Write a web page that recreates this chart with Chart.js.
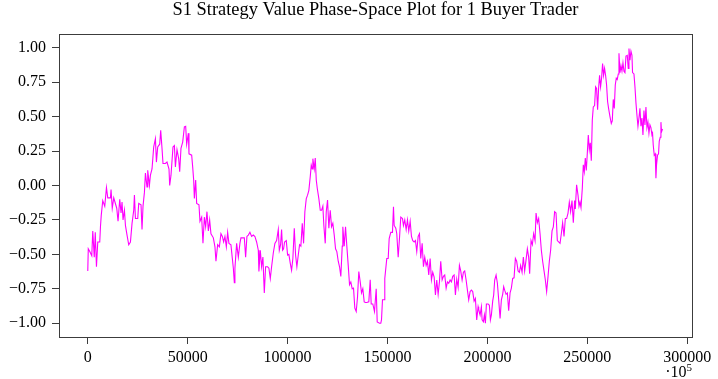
<!DOCTYPE html>
<html>
<head>
<meta charset="utf-8">
<script src="https://cdn.jsdelivr.net/npm/chart.js@4/dist/chart.umd.min.js"></script>
<style>
  html, body { margin: 0; padding: 0; background: #ffffff; }
  #wrap { width: 718px; height: 379px; position: relative; }
  canvas { display: block; }
</style>
</head>
<body>
<div id="wrap"><canvas id="c" width="718" height="379"></canvas></div>
<script>
const titleText = "S1 Strategy Value Phase-Space Plot for 1 Buyer Trader";
const xTickValues = [0, 50000, 100000, 150000, 200000, 250000, 300000];
const yTickValues = [-1.0, -0.75, -0.5, -0.25, 0.0, 0.25, 0.5, 0.75, 1.0];
const offsetLabel = "\u00b710";
const offsetExponent = "5";

const timeValues = [
  0,250,1000,2000,2500,3250,3750,4350,5000,6000,
  6350,6750,7500,8500,9350,10000,11350,11650,12250,13000,
  14500,15150,16000,16650,17150,17650,18350,18850,19650,20500,
  21350,22150,23000,23350,23850,25000,25500,26650,27150,27650,
  28350,28850,29650,30000,30850,31350,32150,33000,33850,34350,
  35000,36000,36500,37150,37650,38850,39650,40650,41000,41650,
  42650,43350,43850,44650,45500,46000,46650,47500,48350,
  49000,49500,50350,50650,52000,52500,53000,53350,54000,54500,
  55650,56150,57000,57650,58350,59000,59650,60350,61000,61650,
  62850,63650,64150,65000,65850,66650,67350,68000,68650,69350,
  70000,70650,71650,72350,72850,73350,73650,74500,75350,76150,
  76650,78350,79000,79650,80350,81150,82000,82850,83650,84500,
  85350,85650,86350,87000,87650,88350,89000,90000,90650,91350,
  92000,92850,93650,94500,95350,95850,96500,97000,97500,
  98000,98500,99350,100000,100650,101350,102000,102650,103350,104000,
  104650,105350,106000,106650,107350,108000,108650,109350,110000,110650,
  111350,111850,112350,112650,113350,113850,114350,114850,115650,116350,
  117000,117650,118150,118850,119350,120000,120650,121350,122000,122650,
  123350,124000,124650,125350,126000,126650,127350,127650,128350,129000,
  129650,130350,131000,131650,132350,133000,133650,134350,135000,135650,
  136350,137000,137650,138350,139000,139650,140650,141350,141850,142650,
  143500,144350,144850,146000,
  146650,147000,147500,148350,148650,149650,150350,150850,151650,152500,
  153000,153350,154150,154650,155350,156000,156650,157500,158000,158650,
  159350,160000,160650,161350,162000,162650,163350,164000,164650,165350,
  166000,166650,167350,168000,168650,169350,170000,170650,171350,172000,
  172650,173350,174000,174650,175350,176000,176650,177350,178000,178650,
  179350,180000,180650,181350,182000,182650,183350,184000,184650,185350,
  186000,186650,187350,188000,188650,189350,190000,190650,191350,192000,
  192650,193350,194000,194650,195350,
  195650,196350,197000,197350,198000,198500,199000,199500,200350,201000,
  201500,202000,202650,203150,203650,204350,205000,205650,206350,207000,
  207650,208150,208650,209350,210000,210650,211350,212000,212650,213350,
  214000,214650,215350,216000,216650,217350,218000,218650,219350,220000,
  220650,221150,221850,222500,223150,223850,224350,225000,225650,226350,
  227000,227650,228350,229000,229650,230350,231000,231650,232350,233000,
  233650,234350,235000,235650,236350,237000,237650,238350,239000,239650,
  240350,241000,241650,242350,243000,243650,
  244000,244650,245350,245850,246350,246850,247500,248000,248500,249000,
  249500,250000,250500,251000,251500,252000,252500,253000,253650,254150,
  254650,255150,255650,256150,256650,257150,257650,258150,258650,259150,
  259650,260150,260650,261350,262000,262500,263000,263500,264000,264500,
  265000,265500,265850,266350,266850,267350,267850,268350,268850,269350,
  270000,270500,270850,271350,271850,272350,272650,273350,273850,274350,
  274850,275350,275850,276350,276850,277350,277850,278350,278850,279350,
  279850,280350,280850,281350,281850,282350,282650,283000,283500,284000,
  284350,284650,285150,285650,286000,286500,286850,287150,287650
];

const strategyValues = [
  -0.62,-0.46,-0.48,-0.51,-0.33,-0.52,-0.34,-0.59,-0.41,-0.41,
  -0.30,-0.215,-0.11,-0.15,-0.015,-0.09,-0.09,-0.03,-0.165,-0.09,
  -0.165,-0.26,-0.10,-0.20,-0.12,-0.25,-0.18,-0.29,-0.36,-0.43,
  -0.41,-0.275,-0.18,-0.07,-0.24,-0.24,-0.13,-0.14,-0.32,-0.15,
  -0.05,0.09,-0.01,0.11,0.00,0.075,0.12,0.28,0.34,0.17,
  0.28,0.30,0.40,0.27,0.16,0.16,0.17,0.12,0.00,0.075,
  0.28,0.29,0.135,0.26,0.195,0.10,0.27,0.315,0.425,
  0.43,0.30,0.38,0.23,0.22,0.135,0.04,-0.095,0.04,-0.13,
  -0.14,-0.26,-0.23,-0.42,-0.23,-0.30,-0.19,-0.33,-0.25,-0.35,
  -0.38,-0.445,-0.55,-0.43,-0.445,-0.35,-0.37,-0.41,-0.37,-0.445,
  -0.34,-0.42,-0.43,-0.53,-0.60,-0.705,-0.60,-0.42,-0.52,-0.42,
  -0.38,-0.38,-0.52,-0.37,-0.36,-0.34,-0.37,-0.36,-0.37,-0.41,
  -0.47,-0.625,-0.47,-0.59,-0.52,-0.78,-0.59,-0.59,-0.60,-0.675,
  -0.59,-0.49,-0.42,-0.40,-0.32,-0.47,-0.43,-0.32,-0.47,
  -0.46,-0.41,-0.40,-0.505,-0.50,-0.565,-0.615,-0.53,-0.31,-0.505,
  -0.59,-0.505,-0.43,-0.44,-0.275,-0.42,-0.19,-0.095,-0.07,-0.035,
  0.065,0.147,0.12,0.195,0.12,0.20,0.04,-0.02,-0.095,-0.18,
  -0.18,-0.15,-0.29,-0.42,-0.19,-0.105,-0.31,-0.18,-0.30,-0.275,
  -0.36,-0.46,-0.48,-0.55,-0.59,-0.66,-0.44,-0.30,-0.44,-0.30,
  -0.44,-0.58,-0.72,-0.70,-0.75,-0.745,-0.89,-0.915,-0.81,-0.625,
  -0.70,-0.78,-0.75,-0.845,-0.85,-0.85,-0.845,-0.685,-0.86,-0.86,
  -0.915,-0.75,-0.99,-1.0,
  -1.0,-0.976,-0.83,-0.83,-0.675,-0.53,-0.53,-0.385,-0.34,-0.34,
  -0.155,-0.29,-0.31,-0.35,-0.52,-0.385,-0.23,-0.24,-0.29,-0.25,
  -0.32,-0.25,-0.33,-0.26,-0.37,-0.40,-0.41,-0.40,-0.48,-0.37,
  -0.35,-0.53,-0.42,-0.59,-0.52,-0.58,-0.55,-0.65,-0.53,-0.686,
  -0.63,-0.665,-0.795,-0.686,-0.79,-0.70,-0.55,-0.686,-0.66,-0.65,
  -0.745,-0.70,-0.71,-0.686,-0.70,-0.66,-0.65,-0.795,-0.68,-0.74,
  -0.58,-0.62,-0.686,-0.63,-0.62,-0.686,-0.76,-0.83,-0.77,-0.76,
  -0.77,-0.84,-0.82,-0.976,-0.88,
  -0.90,-0.94,-0.88,-0.976,-0.99,-0.94,-1.0,-0.86,-0.86,-0.87,
  -0.976,-0.94,-0.84,-0.795,-0.686,-0.65,-0.71,-0.83,-0.965,-0.83,
  -0.79,-0.735,-0.76,-0.79,-0.78,-0.91,-0.78,-0.745,-0.675,-0.67,
  -0.53,-0.55,-0.62,-0.63,-0.58,-0.63,-0.52,-0.62,-0.54,-0.46,
  -0.52,-0.64,-0.40,-0.43,-0.35,-0.40,-0.20,-0.27,-0.24,-0.35,
  -0.47,-0.55,-0.62,-0.686,-0.77,-0.66,-0.55,-0.47,-0.33,-0.30,
  -0.19,-0.20,-0.40,-0.41,-0.42,-0.35,-0.27,-0.37,-0.24,-0.24,
  -0.20,-0.12,-0.19,-0.11,-0.27,-0.11,
  -0.17,0.005,-0.07,-0.15,-0.12,-0.16,-0.02,0.15,0.10,0.20,
  0.11,0.234,0.367,0.26,0.31,0.18,0.475,0.57,0.58,0.717,
  0.705,0.55,0.705,0.80,0.717,0.78,0.886,0.80,0.85,0.80,
  0.73,0.61,0.56,0.50,0.45,0.47,0.625,0.56,0.73,0.78,
  0.77,0.81,0.96,0.82,0.87,0.83,0.89,0.83,0.82,0.94,
  0.945,0.85,0.995,0.91,0.975,0.945,0.82,0.81,0.717,0.60,
  0.51,0.43,0.49,0.56,0.43,0.49,0.367,0.545,0.44,0.57,
  0.42,0.46,0.38,0.44,0.42,0.367,0.38,0.294,0.22,0.23,
  0.053,0.15,0.22,0.23,0.32,0.35,0.46,0.39,0.41
];

const n = Math.min(timeValues.length, strategyValues.length);
const points = [];
for (let i = 0; i < n; i++) points.push({ x: timeValues[i], y: strategyValues[i] });

const SERIF = "'Liberation Serif', 'DejaVu Serif', serif";
const FRAME = '#3c3c3c';

const frameAndText = {
  id: 'frameAndText',
  afterDraw(chart) {
    const { ctx, chartArea: a } = chart;
    ctx.save();
    ctx.strokeStyle = FRAME;
    ctx.lineWidth = 1;
    ctx.strokeRect(Math.round(a.left) + 0.5, Math.round(a.top) + 0.5,
                   Math.round(a.right - a.left), Math.round(a.bottom - a.top));
    // title
    ctx.fillStyle = '#000';
    ctx.font = "18.4px " + SERIF;
    ctx.textAlign = 'center';
    ctx.textBaseline = 'alphabetic';
    ctx.fillText(titleText, (a.left + a.right) / 2, 15);
    // axis offset text
    ctx.font = "11px " + SERIF;
    const expW = ctx.measureText(offsetExponent).width;
    ctx.font = "16px " + SERIF;
    ctx.textAlign = 'right';
    ctx.fillText(offsetLabel, a.right - expW, 377);
    ctx.font = "11px " + SERIF;
    ctx.fillText(offsetExponent, a.right, 371);
    ctx.restore();
  }
};

new Chart(document.getElementById('c'), {
  type: 'line',
  data: {
    datasets: [{
      data: points,
      borderColor: '#ff00ff',
      backgroundColor: '#ff00ff',
      borderWidth: 1.1,
      pointRadius: 0,
      tension: 0,
      fill: false
    }]
  },
  options: {
    responsive: false,
    animation: false,
    devicePixelRatio: 1,
    layout: { padding: { top: 34, right: 26, left: 0, bottom: 0 } },
    plugins: { legend: { display: false }, title: { display: false }, tooltip: { enabled: false } },
    scales: {
      x: {
        type: 'linear',
        min: -14400,
        max: 302400,
        afterBuildTicks: s => { s.ticks = xTickValues.map(v => ({ value: v })); },
        afterFit: s => { s.height = 42; },
        border: { display: false },
        grid: { display: true, drawOnChartArea: false, drawTicks: true, tickLength: 7, color: FRAME, tickColor: FRAME },
        ticks: {
          color: '#000',
          font: { family: SERIF, size: 16 },
          padding: 4,
          maxRotation: 0,
          autoSkip: false,
          callback: v => String(v)
        }
      },
      y: {
        type: 'linear',
        min: -1.1,
        max: 1.1,
        afterBuildTicks: s => { s.ticks = yTickValues.map(v => ({ value: v })); },
        afterFit: s => { s.width = 59; },
        border: { display: false },
        grid: { display: true, drawOnChartArea: false, drawTicks: true, tickLength: 7, color: FRAME, tickColor: FRAME },
        ticks: {
          color: '#000',
          font: { family: SERIF, size: 16 },
          padding: 6,
          autoSkip: false,
          callback: v => (v < 0 ? '\u2212' : '') + Math.abs(v).toFixed(2)
        }
      }
    }
  },
  plugins: [frameAndText]
});
</script>
</body>
</html>
